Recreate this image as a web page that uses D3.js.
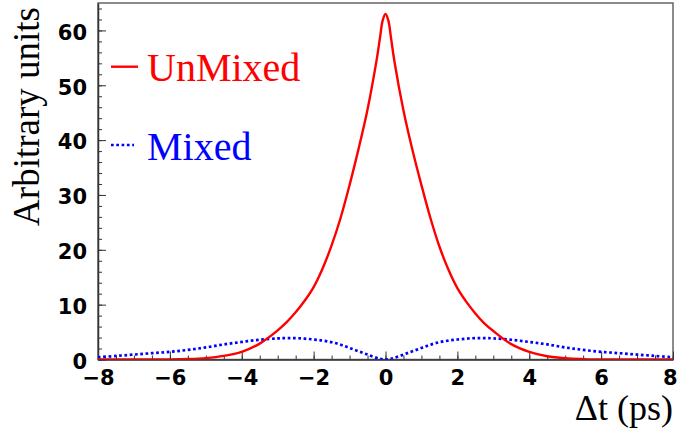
<!DOCTYPE html>
<html>
<head>
<meta charset="utf-8">
<script src="https://cdn.jsdelivr.net/npm/d3@7"></script>
<style>
  html, body { margin: 0; padding: 0; background: #fff; }
</style>
</head>
<body>
<div id="chart"></div>
<script>
// delta t grid (ps)
const tValues = [-8, -7.5, -7, -6.5, -6, -5.5, -5, -4.5, -4, -3.5, -3, -2.75, -2.5, -2.25, -2, -1.75, -1.5, -1.25, -1, -0.75, -0.5, -0.25, -0.15, -0.08,
  0, 0.08, 0.15, 0.25, 0.5, 0.75, 1, 1.25, 1.5, 1.75, 2, 2.25, 2.5, 2.75, 3, 3.5, 4, 4.5, 5, 5.5, 6, 6.5, 7, 7.5, 8];

const unmixedValues = [0, 0, 0, 0.01, 0.02, 0.08, 0.25, 0.65, 1.4, 2.9, 5.3, 6.8, 8.6, 10.7, 13.2, 16.6, 20.8, 25.8, 31.8, 38.4, 45.6, 54.5, 58.8, 61.8,
  63, 61.8, 58.8, 54.3, 45.4, 38.2, 31.8, 25.8, 20.6, 16.4, 13.0, 10.5, 8.4, 6.6, 5.2, 2.8, 1.4, 0.6, 0.22, 0.07, 0.02, 0, 0, 0, 0];

const mixedValues = [0.4, 0.65, 0.9, 1.15, 1.4, 1.75, 2.2, 2.75, 3.2, 3.6, 3.85, 3.9, 3.9, 3.8, 3.65, 3.45, 3.15, 2.7, 2.1, 1.5, 0.9, 0.3, 0.12, 0.04,
  0, 0.04, 0.12, 0.3, 0.9, 1.5, 2.1, 2.7, 3.15, 3.45, 3.65, 3.8, 3.9, 3.9, 3.85, 3.6, 3.2, 2.75, 2.2, 1.75, 1.4, 1.15, 0.9, 0.65, 0.4];

const xTicks = [-8, -6, -4, -2, 0, 2, 4, 6, 8];
const yTicks = [0, 10, 20, 30, 40, 50, 60];
const seriesNames = ['UnMixed', 'Mixed'];

const width = 678;
const height = 431;
const margin = { top: 3, right: 5, bottom: 71.5, left: 98 };
const innerW = width - margin.left - margin.right;
const innerH = height - margin.top - margin.bottom;

const svg = d3.select('#chart').append('svg')
  .attr('width', width)
  .attr('height', height);

const g = svg.append('g').attr('transform', `translate(${margin.left},${margin.top})`);

const x = d3.scaleLinear().domain([-8, 8]).range([0, innerW]);
const y = d3.scaleLinear().domain([0, 65]).range([innerH, 0]);

svg.append('defs').append('clipPath').attr('id', 'plot-clip')
  .append('rect').attr('x', 0).attr('y', 0).attr('width', innerW).attr('height', innerH);

// frame
g.append('rect')
  .attr('x', 0).attr('y', 0)
  .attr('width', innerW).attr('height', innerH)
  .attr('fill', 'none')
  .attr('stroke', '#666')
  .attr('stroke-width', 1.5);

const tickFont = '"DejaVu Sans", Verdana, sans-serif';

// minor ticks
g.append('g')
  .attr('transform', `translate(0,${innerH})`)
  .call(d3.axisBottom(x).tickValues(d3.range(-8, 8.01, 0.5)).tickSizeInner(-4).tickSizeOuter(0).tickFormat(''))
  .call(a => a.select('.domain').remove())
  .call(a => a.selectAll('line').attr('stroke', '#333'));
g.append('g')
  .call(d3.axisLeft(y).tickValues(d3.range(0, 65, 2)).tickSizeInner(-4).tickSizeOuter(0).tickFormat(''))
  .call(a => a.select('.domain').remove())
  .call(a => a.selectAll('line').attr('stroke', '#333'));

// major ticks + labels
const xAxisG = g.append('g')
  .attr('transform', `translate(0,${innerH})`)
  .call(d3.axisBottom(x).tickValues(xTicks).tickSizeInner(-8).tickSizeOuter(0).tickPadding(11));
xAxisG.select('.domain').attr('stroke', '#333').attr('stroke-width', 1.5);
xAxisG.selectAll('line').attr('stroke', '#333');
xAxisG.selectAll('text')
  .attr('font-family', tickFont)
  .attr('font-weight', 'bold')
  .attr('font-size', '21px')
  .attr('fill', '#000');
// last label sits on the window edge, keep it inside
xAxisG.selectAll('text').filter(d => d === 8)
  .attr('text-anchor', 'end')
  .attr('x', 4);

const yAxisG = g.append('g')
  .call(d3.axisLeft(y).tickValues(yTicks).tickSizeInner(-8).tickSizeOuter(0).tickPadding(11));
yAxisG.select('.domain').attr('stroke', '#333').attr('stroke-width', 1.5);
yAxisG.selectAll('line').attr('stroke', '#333');
yAxisG.selectAll('text')
  .attr('font-family', tickFont)
  .attr('font-weight', 'bold')
  .attr('font-size', '21px')
  .attr('dy', '0.42em')
  .attr('fill', '#000');

// axis titles
svg.append('text')
  .attr('transform', 'translate(38.5,7) rotate(-90)')
  .attr('text-anchor', 'end')
  .attr('font-family', '"Liberation Serif", "Times New Roman", serif')
  .attr('font-size', '37px')
  .text('Arbitrary units');

svg.append('text')
  .attr('x', 673)
  .attr('y', 420)
  .attr('text-anchor', 'end')
  .attr('font-family', '"Liberation Serif", "Times New Roman", serif')
  .attr('font-size', '36px')
  .text('Δt (ps)');

// curves
const points = (vals) => tValues.map((t, i) => ({ t, v: vals[i] }));
const line = d3.line().x(d => x(d.t)).y(d => y(d.v)).curve(d3.curveCatmullRom.alpha(0.5));

const plot = g.append('g').attr('clip-path', 'url(#plot-clip)');

plot.append('path')
  .datum(points(mixedValues))
  .attr('d', line)
  .attr('fill', 'none')
  .attr('stroke', '#0000ff')
  .attr('stroke-width', 2.7)
  .attr('stroke-dasharray', '2.7,2.6');

plot.append('path')
  .datum(points(unmixedValues))
  .attr('d', line)
  .attr('fill', 'none')
  .attr('stroke', '#ff0000')
  .attr('stroke-width', 2.4);

// legend
const legend = [
  { name: seriesNames[0], color: '#ff0000', dash: null, ly: 66.7, ty: 81 },
  { name: seriesNames[1], color: '#0000ff', dash: '2.7,2.6', ly: 145, ty: 159.5 }
];
legend.forEach(d => {
  svg.append('line')
    .attr('x1', 111).attr('x2', d.dash ? 134 : 138)
    .attr('y1', d.ly).attr('y2', d.ly)
    .attr('stroke', d.color)
    .attr('stroke-width', d.dash ? 2.7 : 2.4)
    .attr('stroke-dasharray', d.dash);
  svg.append('text')
    .attr('x', 147)
    .attr('y', d.ty)
    .attr('font-family', '"Liberation Serif", "Times New Roman", serif')
    .attr('font-size', '40px')
    .attr('fill', d.color)
    .text(d.name);
});
</script>
</body>
</html>
